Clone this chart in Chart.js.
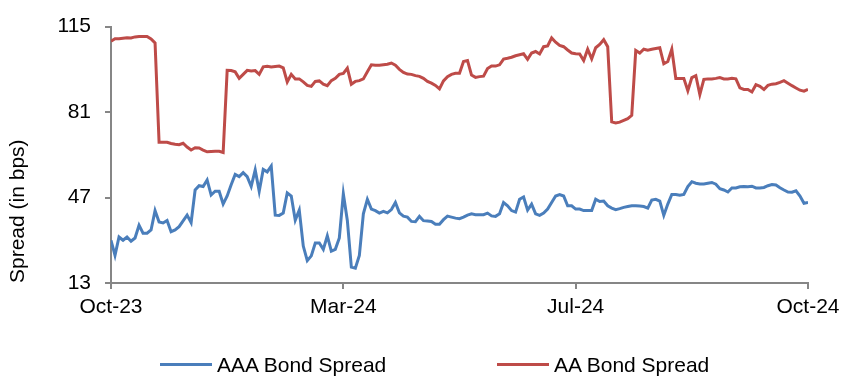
<!DOCTYPE html>
<html>
<head>
<meta charset="utf-8">
<script src="https://cdn.jsdelivr.net/npm/chart.js@4"></script>
<style>
  body { margin: 0; background: #fff; }
  #wrap { position: relative; width: 846px; height: 379px; font-family: "Liberation Sans", Arial, sans-serif; }
  .key { position: absolute; top: 352px; display: flex; align-items: center; font-size: 21px; line-height: 25px; color: #000; white-space: nowrap; }
  .key .swatch { width: 52px; height: 3px; margin-right: 5px; }
</style>
</head>
<body>
<div id="wrap">
  <canvas id="spreadChart"></canvas>
</div>
<script>
// tick labels sit at evenly spaced points along the series
const xTickLabels = ['Oct-23', 'Mar-24', 'Jul-24', 'Oct-24'];
const yTicks = [13, 47, 81, 115];

// AAA bond spread (bps)
const aaaSpread = [
  30, 24, 31.3, 30.0, 31.3, 29.6, 30.9, 36, 32.8, 32.8, 34.1, 41.8, 37.3, 36.9, 37.9, 33.4, 34.1, 35.4, 37.7, 40,
  37, 50, 51.7, 51.4, 54, 48, 49.5, 49.5, 44.4, 47.6, 52.1, 56.2, 55.3, 56.9, 55.3, 51.4,
  58, 49.5, 58.2, 57.2, 59.5, 40, 39.9, 40.8, 48.8, 47.6, 38, 42, 27.7, 21.9, 23.8, 28.9, 28.9, 26.4, 31.8, 25.7,
  26.4, 30.9, 48.5, 37.9, 19.3, 18.9, 24, 40.5, 46.3, 42.4, 41.8, 40.8, 41.5, 40.9, 42.2,
  45, 40.9, 39.6, 39.2, 37.5, 37.4, 39.5, 37.8, 37.7, 37.5, 36.4, 36.4, 38.2, 39.6, 39.2, 38.8, 38.6, 39.2, 40.0, 40.5,
  40.2, 40.2, 40.2, 40.8, 39.7, 39.5, 40.5, 45.0, 43.7, 41.8, 41.2, 46.3, 47.2, 42, 44.4,
  40.5, 39.9, 40.8, 42.4, 45.0, 47.6, 48.2, 47.6, 43.7, 43.7, 42.4, 42.4, 41.8, 41.8, 41.8, 46.3, 45.4, 45.6, 43.7, 42.8,
  42.2, 42.6, 43.1, 43.4, 43.7, 43.7, 43.6, 43.4, 42.8, 46.0, 46.3, 45.6, 39.9, 44.4, 48.2,
  48.2, 47.9, 48.2, 51.4, 53.3, 52.7, 52.4, 52.4, 52.7, 53.0, 52.3, 50.5, 50.0, 49.2, 50.8, 50.8, 51.3, 51.4, 51.3, 51.5,
  50.8, 50.8, 51.0, 51.7, 52.2, 52.0, 50.9, 50.0, 49.2, 49.1, 49.7, 47.6, 44.7, 45.0
];

// AA bond spread (bps)
const aaSpread = [
  109.2, 110.2, 110.2, 110.4, 110.6, 110.5, 110.9, 111.1, 111.1, 111.1, 110.1, 108.5,
  69.0, 69.0, 69.0, 68.5, 68.2, 68.0, 68.6, 67.1, 65.9, 66.8, 66.7, 65.9, 65.2, 65.3, 65.4, 65.4, 64.9,
  97.6, 97.5, 97.0, 94.4, 96.0, 97.6, 97.3,
  97.5, 96, 99, 99.2, 98.9, 99.1, 99.3, 98.6, 93, 96.0, 94.2, 94.2, 93, 91.6, 91.2, 93.2, 93.4, 92.1, 91.5, 93.5,
  94.4, 96.0, 96.4, 98.5, 92.1, 93.2, 93.5, 94.2, 97.0, 99.8, 99.6, 99.6, 99.8, 100.0, 100.5,
  99.6, 98.0, 96.8, 96.1, 96.0, 95.5, 95.2, 94.4, 93.2, 92.5, 91.6, 90.2, 93.4, 95.1, 96.0, 96.4, 96.4, 101.1, 101.5, 95.7,
  94.8, 95.1, 95.3, 98.3, 99.3, 99.3, 99.8, 102.1, 102.4, 102.8, 103.4, 103.8, 104.2, 102, 104.5,
  105.1, 104.1, 107.0, 107.3, 110.5, 108.8, 107.5, 107.0, 105.7, 104.5, 104.2, 104.1, 101.5, 106, 102.2, 106.6, 107.9, 109.8, 107,
  77.1, 76.7, 77.0, 77.7, 78.4, 79.7,
  105.5, 104.5, 106.0, 105.6, 106.0, 106.3, 106.6, 100.2, 101.1, 106.0,
  94.4, 94.4, 94.4, 89.5, 94.7, 95.5, 88, 94, 94.2, 94.2, 94.4, 94.7, 94.2, 94.2, 94.4, 94.2, 90.6, 90.0, 90.0, 89.0,
  91.9, 91.2, 90.0, 91.6, 92.1, 92.3, 92.8, 93.5, 92.5, 91.5, 90.6, 89.7, 89.3, 90.0
];

const seriesNames = ['AAA Bond Spread', 'AA Bond Spread'];
const seriesColors = ['#4A7EBB', '#BE4B48'];

const n = aaaSpread.length;
const points = aaaSpread.map((_, i) => i);
const tickStep = (n - 1) / (xTickLabels.length - 1);
const xTickPos = xTickLabels.map((_, i) => i * tickStep);

Chart.defaults.font.family = '"Liberation Sans", Arial, sans-serif';
Chart.defaults.font.size = 21;
Chart.defaults.color = '#000';

const axisGrey = '#868686';

new Chart(document.getElementById('spreadChart'), {
  type: 'line',
  data: {
    labels: points,
    datasets: [
      { label: seriesNames[0], data: aaaSpread, borderColor: seriesColors[0], backgroundColor: seriesColors[0] },
      { label: seriesNames[1], data: aaSpread, borderColor: seriesColors[1], backgroundColor: seriesColors[1] }
    ]
  },
  options: {
    responsive: true,
    maintainAspectRatio: false,
    animation: false,
    layout: { padding: { top: 18, right: 38, bottom: 0, left: 0 } },
    elements: {
      line: { borderWidth: 3, tension: 0 },
      point: { radius: 0, hoverRadius: 0 }
    },
    plugins: {
      legend: { display: false },
      tooltip: { enabled: false }
    },
    scales: {
      x: {
        type: 'linear',
        min: 0,
        max: n - 1,
        afterBuildTicks: s => { s.ticks = xTickPos.map(v => ({ value: v })); },
        afterFit: s => { s.height = 96; },
        ticks: {
          padding: 6,
          maxRotation: 0,
          callback: v => xTickLabels[xTickPos.indexOf(v)]
        },
        grid: { drawOnChartArea: false, tickLength: 6, color: axisGrey, lineWidth: 2 },
        border: { color: axisGrey, width: 2 }
      },
      y: {
        min: 13,
        max: 115,
        afterBuildTicks: s => { s.ticks = yTicks.map(v => ({ value: v })); },
        afterFit: s => { s.width = 111; },
        ticks: { padding: 14 },
        grid: { drawOnChartArea: false, tickLength: 6, color: axisGrey, lineWidth: 2 },
        border: { color: axisGrey, width: 2 },
        title: {
          display: true,
          text: 'Spread (in bps)',
          align: 'start',
          padding: { top: 6, bottom: 0 },
          font: { size: 21 }
        }
      }
    }
  }
});

// legend row under the chart
const keyLeft = [160, 497];
seriesNames.forEach((name, i) => {
  const key = document.createElement('div');
  key.className = 'key';
  key.style.left = keyLeft[i] + 'px';
  key.innerHTML = `<span class="swatch" style="background:${seriesColors[i]}"></span><span>${name}</span>`;
  document.getElementById('wrap').appendChild(key);
});
</script>
</body>
</html>
